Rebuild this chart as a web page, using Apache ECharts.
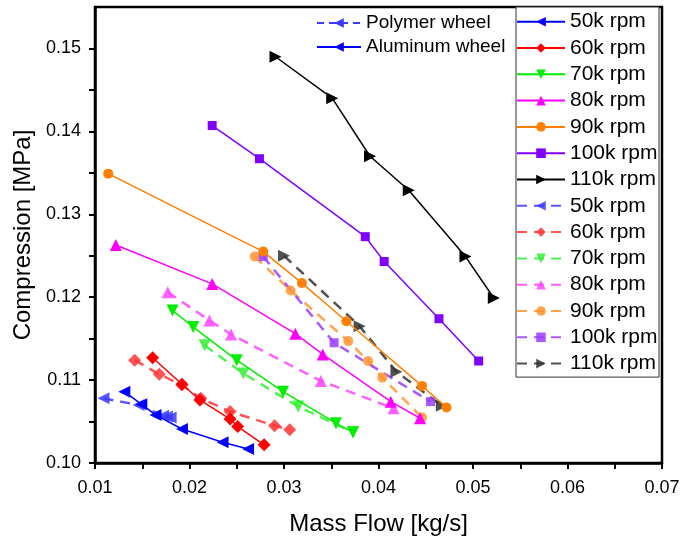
<!DOCTYPE html>
<html><head><meta charset="utf-8">
<script src="https://cdn.jsdelivr.net/npm/echarts@6/dist/echarts.min.js"></script>
<style>html,body{margin:0;padding:0;background:#fff}#c{width:684px;height:541px}</style>
</head><body><div id="c"></div>
<script>
// ---- data ----
const speedLabels = ['50k rpm', '60k rpm', '70k rpm', '80k rpm', '90k rpm', '100k rpm', '110k rpm'];
const xTickLabels = ['0.01', '0.02', '0.03', '0.04', '0.05', '0.06', '0.07'];
const yTickLabels = ['0.10', '0.11', '0.12', '0.13', '0.14', '0.15'];

// Aluminum wheel (solid lines): [mass flow kg/s, compression MPa]
const al50k = [[0.0131, 0.1086], [0.0149, 0.1071], [0.0164, 0.1058], [0.0192, 0.1041], [0.0235, 0.1025], [0.0262, 0.1017]];
const al60k = [[0.0161, 0.1127], [0.0192, 0.1095], [0.0211, 0.1076], [0.0243, 0.1053], [0.0251, 0.1044], [0.0279, 0.1022]];
const al70k = [[0.0182, 0.1184], [0.0204, 0.1164], [0.0250, 0.1124], [0.0299, 0.1086], [0.0355, 0.1048], [0.0373, 0.1037]];
const al80k = [[0.0122, 0.1263], [0.0224, 0.1216], [0.0312, 0.1156], [0.0341, 0.1131], [0.0413, 0.1074], [0.0444, 0.1054]];
const al90k = [[0.0114, 0.1349], [0.0278, 0.1255], [0.0319, 0.1217], [0.0366, 0.1171], [0.0446, 0.1093], [0.0472, 0.1067]];
const al100k = [[0.0224, 0.1407], [0.0274, 0.1367], [0.0386, 0.1273], [0.0406, 0.1243], [0.0464, 0.1174], [0.0506, 0.1123]];
const al110k = [[0.0291, 0.1490], [0.0351, 0.1440], [0.0391, 0.1370], [0.0432, 0.1329], [0.0492, 0.1249], [0.0522, 0.1199]];

// Polymer wheel (dashed lines)
const po50k = [[0.0109, 0.1078], [0.0146, 0.1070], [0.0172, 0.1057], [0.0176, 0.1056], [0.0180, 0.1055]];
const po60k = [[0.0142, 0.1124], [0.0168, 0.1107], [0.0192, 0.1094], [0.0212, 0.1078], [0.0243, 0.1062], [0.0290, 0.1045], [0.0306, 0.1040]];
const po70k = [[0.0216, 0.1142], [0.0257, 0.1108], [0.0315, 0.1068], [0.0373, 0.1037]];
const po80k = [[0.0177, 0.1206], [0.0221, 0.1172], [0.0244, 0.1155], [0.0339, 0.1099], [0.0416, 0.1066]];
const po90k = [[0.0269, 0.1249], [0.0307, 0.1208], [0.0368, 0.1147], [0.0389, 0.1123], [0.0404, 0.1103], [0.0446, 0.1055]];
const po100k = [[0.0278, 0.1249], [0.0353, 0.1145], [0.0455, 0.1074]];
const po110k = [[0.0300, 0.1250], [0.0380, 0.1165], [0.0419, 0.1110], [0.0467, 0.1069]];

const alColors = ['#0000ff', '#ff0000', '#00ee00', '#ff00ff', '#ff8000', '#8000ff', '#000000'];
const poColors = ['#3b3bff', '#ff3535', '#33ee33', '#ff44ff', '#ff9430', '#9a3dff', '#333333'];
const symbols = ['triangle', 'diamond', 'triangle', 'triangle', 'circle', 'rect', 'triangle'];
const rotations = [90, 0, 180, 0, 0, 0, -90];
const symSizes = [12, 13, 12, 12, 10, 9, 12];

const alData = [al50k, al60k, al70k, al80k, al90k, al100k, al110k];
const poData = [po50k, po60k, po70k, po80k, po90k, po100k, po110k];

const FONT = 'Liberation Sans, Arial, sans-serif';
const series = [];
// wheel-type legend entries (no data)
series.push({
  name: 'Polymer wheel', type: 'line', data: [], symbol: 'triangle', symbolRotate: 90,
  itemStyle: {color: '#3b3bff'}, lineStyle: {type: [7, 5], width: 2.5, color: '#3b3bff'}
});
series.push({
  name: 'Aluminum wheel', type: 'line', data: [], symbol: 'triangle', symbolRotate: 90,
  itemStyle: {color: '#0000ff'}, lineStyle: {type: 'solid', width: 1.5, color: '#0000ff'}
});
alData.forEach((d, i) => {
  series.push({
    name: speedLabels[i], type: 'line', data: d, symbol: symbols[i], symbolRotate: rotations[i],
    symbolSize: symSizes[i], showAllSymbol: true, z: 3,
    itemStyle: {color: alColors[i]}, lineStyle: {color: alColors[i], width: 1.5}
  });
});
poData.forEach((d, i) => {
  series.push({
    name: speedLabels[i] + ' ', type: 'line', data: d, symbol: symbols[i], symbolRotate: rotations[i],
    symbolSize: symSizes[i], showAllSymbol: true, z: 2,
    itemStyle: {color: poColors[i], opacity: 0.85}, lineStyle: {color: poColors[i], width: 2.5, type: [10, 7], opacity: 0.85}
  });
});

const isMajor = v => Math.abs(v * 100 - Math.round(v * 100)) < 1e-6;

const option = {
  animation: false,
  backgroundColor: '#fff',
  textStyle: {fontFamily: FONT},
  grid: {left: 95, right: 22, top: 7, bottom: 78, show: true, borderColor: '#000', borderWidth: 2.5, backgroundColor: 'transparent'},
  xAxis: {
    type: 'value', min: 0.01, max: 0.07, interval: 0.005,
    name: 'Mass Flow [kg/s]', nameLocation: 'middle', nameGap: 49,
    nameTextStyle: {fontSize: 24, color: '#000', fontFamily: FONT},
    axisLine: {show: true, lineStyle: {color: '#000', width: 2.5}},
    axisTick: {show: true, inside: false, length: 6, lineStyle: {color: '#000', width: 2}},
    axisLabel: {
      fontSize: 18, color: '#000', margin: 16, fontFamily: FONT,
      formatter: v => isMajor(v) ? xTickLabels[Math.round(v * 100) - 1] : ''
    },
    splitLine: {show: false}
  },
  yAxis: {
    type: 'value', min: 0.10, max: 0.155, interval: 0.005,
    name: 'Compression [MPa]', nameLocation: 'middle', nameGap: 60,
    nameTextStyle: {fontSize: 24, color: '#000', fontFamily: FONT},
    axisLine: {show: true, lineStyle: {color: '#000', width: 2.5}},
    axisTick: {show: true, inside: false, length: 6, lineStyle: {color: '#000', width: 2}},
    axisLabel: {
      fontSize: 18, color: '#000', margin: 14, fontFamily: FONT, showMaxLabel: false,
      formatter: v => isMajor(v) ? yTickLabels[Math.round(v * 100) - 10] : ''
    },
    splitLine: {show: false}
  },
  legend: [
    {
      data: ['Polymer wheel', 'Aluminum wheel'],
      orient: 'vertical', left: 316, top: 13, itemWidth: 44, itemHeight: 12, itemGap: 4,
      padding: 0,
      textStyle: {fontSize: 19, color: '#000', fontFamily: FONT, lineHeight: 20},
      selectedMode: false
    },
    {
      data: speedLabels.concat(speedLabels.map(s => s + ' ')),
      orient: 'vertical', left: 516, top: 7, itemWidth: 48, itemHeight: 12, itemGap: 5.3,
      padding: [4.2, 0, 3, 0], borderColor: '#333', borderWidth: 1,
      backgroundColor: '#fff',
      formatter: n => n.trim(),
      textStyle: {fontSize: 21, color: '#000', fontFamily: FONT, lineHeight: 21, width: 89},
      selectedMode: false
    }
  ],
  series: series
};

const chart = echarts.init(document.getElementById('c'), null, {renderer: 'canvas'});
chart.setOption(option);
</script>
</body></html>
